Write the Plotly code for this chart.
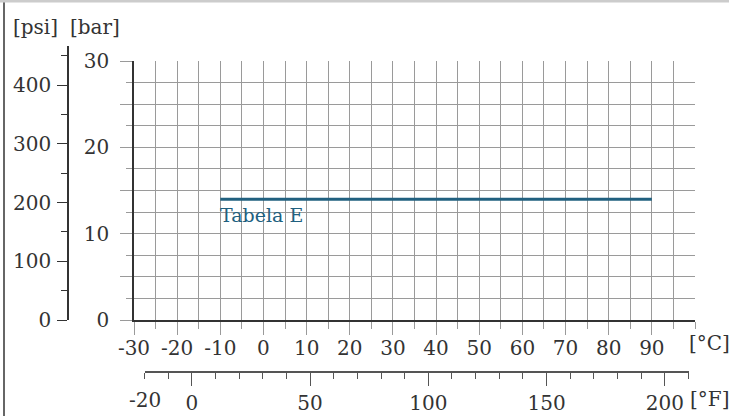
import plotly.graph_objects as go

# ---- data ----
temp_c = [-10, 90]          # °C, start/end of the limit line
pressure_bar = [14, 14]     # bar
series_name = "Tabela E"

c_ticks = [-30, -20, -10, 0, 10, 20, 30, 40, 50, 60, 70, 80, 90]
bar_ticks = [0, 5, 10, 15, 20, 25, 30]
bar_ticktext = ["0", "", "10", "", "20", "", "30"]
psi_ticks = [0, 100, 200, 300, 400]
f_ticks = [0, 50, 100, 150, 200]
f_extra_label = -20

W, H = 729, 416
FONT = "DejaVu Serif"
TXT = "#333333"
GRID = "#9a9a9a"
LINE_COL = "#21607f"
FS = 20


def px_x(p):
    return p / W


def px_y(p):
    return 1 - p / H


fig = go.Figure()

fig.add_trace(go.Scatter(
    x=temp_c, y=pressure_bar, mode="lines",
    line=dict(color=LINE_COL, width=3),
    showlegend=False, hoverinfo="skip",
))
# dummy trace to create the °F / psi axes
fig.add_trace(go.Scatter(
    x=[None], y=[None], xaxis="x2", yaxis="y2",
    showlegend=False, hoverinfo="skip",
))

fig.add_annotation(
    x=temp_c[0], y=pressure_bar[0], xref="x", yref="y",
    text=series_name, showarrow=False,
    xanchor="left", yanchor="top", xshift=-2, yshift=-3,
    font=dict(family=FONT, size=19, color=LINE_COL),
)

tickfont = dict(family=FONT, size=FS, color=TXT)

fig.update_layout(
    template="none",
    width=W, height=H,
    margin=dict(l=0, r=0, t=0, b=0, pad=0),
    paper_bgcolor="white", plot_bgcolor="rgba(0,0,0,0)",
    xaxis=dict(
        domain=[px_x(134), px_x(695)], range=[-30, 100],
        anchor="y", automargin=False,
        tickmode="array", tickvals=c_ticks, ticktext=[str(v) for v in c_ticks],
        ticks="outside", ticklen=13, tickcolor=GRID, tickwidth=1,
        showgrid=True, gridcolor=GRID, gridwidth=1,
        showline=True, linecolor="#333333", linewidth=1.5,
        zeroline=False,
        minor=dict(dtick=5, tick0=0, ticks="outside", ticklen=7,
                   tickcolor=GRID, showgrid=True, gridcolor=GRID, gridwidth=1),
        tickfont=tickfont, ticklabelstandoff=-4,
    ),
    yaxis=dict(
        domain=[px_y(320), px_y(61)], range=[0, 30],
        anchor="x", automargin=False,
        tickmode="array", tickvals=bar_ticks, ticktext=bar_ticktext,
        ticks="outside", ticklen=12, tickcolor=GRID, tickwidth=1,
        showgrid=True, gridcolor=GRID, gridwidth=1,
        showline=True, linecolor="#333333", linewidth=1.5,
        zeroline=False,
        minor=dict(dtick=2.5, tick0=0, ticks="outside", ticklen=6,
                   tickcolor=GRID, showgrid=True, gridcolor=GRID, gridwidth=1),
        tickfont=tickfont, ticklabelstandoff=7,
    ),
    xaxis2=dict(
        domain=[px_x(144.5), px_x(688.5)], range=[-20, 210],
        anchor="free", position=px_y(372), side="bottom", automargin=False,
        tickmode="array", tickvals=f_ticks, ticktext=[str(v) for v in f_ticks],
        ticks="outside", ticklen=13, tickcolor="#555555", tickwidth=1,
        showgrid=False, zeroline=False,
        showline=True, linecolor="#555555", linewidth=1.5,
        minor=dict(dtick=10, tick0=0, ticks="outside", ticklen=6,
                   tickcolor="#555555", showgrid=False),
        tickfont=tickfont, ticklabelstandoff=0,
    ),
    yaxis2=dict(
        domain=[px_y(320), px_y(46)], range=[0, 466.4],
        anchor="free", position=px_x(68), side="left", automargin=False,
        tickmode="array", tickvals=psi_ticks, ticktext=[str(v) for v in psi_ticks],
        ticks="outside", ticklen=10, tickcolor="#333333", tickwidth=1,
        showgrid=False, zeroline=False,
        showline=True, linecolor="#333333", linewidth=1.5,
        minor=dict(dtick=50, tick0=0, ticks="outside", ticklen=6,
                   tickcolor="#333333", showgrid=False),
        tickfont=tickfont, ticklabelstandoff=2,
    ),
)

# -20 °F label (placed on the °F scale)
fig.add_annotation(
    x=f_extra_label, y=px_y(400), xref="x2", yref="paper",
    text=str(f_extra_label), showarrow=False,
    xanchor="center", yanchor="middle",
    font=tickfont,
)

# unit labels
for txt, xp, yp in [("[psi]", 35, 27), ("[bar]", 95, 27),
                    ("[°C]", 709, 343), ("[°F]", 709, 399)]:
    fig.add_annotation(
        x=px_x(xp), y=px_y(yp), xref="paper", yref="paper",
        text=txt, showarrow=False, xanchor="center", yanchor="middle",
        font=dict(family=FONT, size=FS, color=TXT),
    )

# frame decoration
fig.add_shape(type="line", xref="paper", yref="paper",
              x0=px_x(4), x1=px_x(4), y0=0, y1=1,
              line=dict(color="#333333", width=1.5))
fig.add_shape(type="rect", xref="paper", yref="paper",
              x0=0, x1=1, y0=px_y(2.5), y1=1,
              line=dict(width=0), fillcolor="#cccccc", layer="above")

fig.write_html(
    "out.html",
    config={"displayModeBar": False},
    post_script="document.body.style.margin='0';document.body.style.overflow='hidden';",
)
